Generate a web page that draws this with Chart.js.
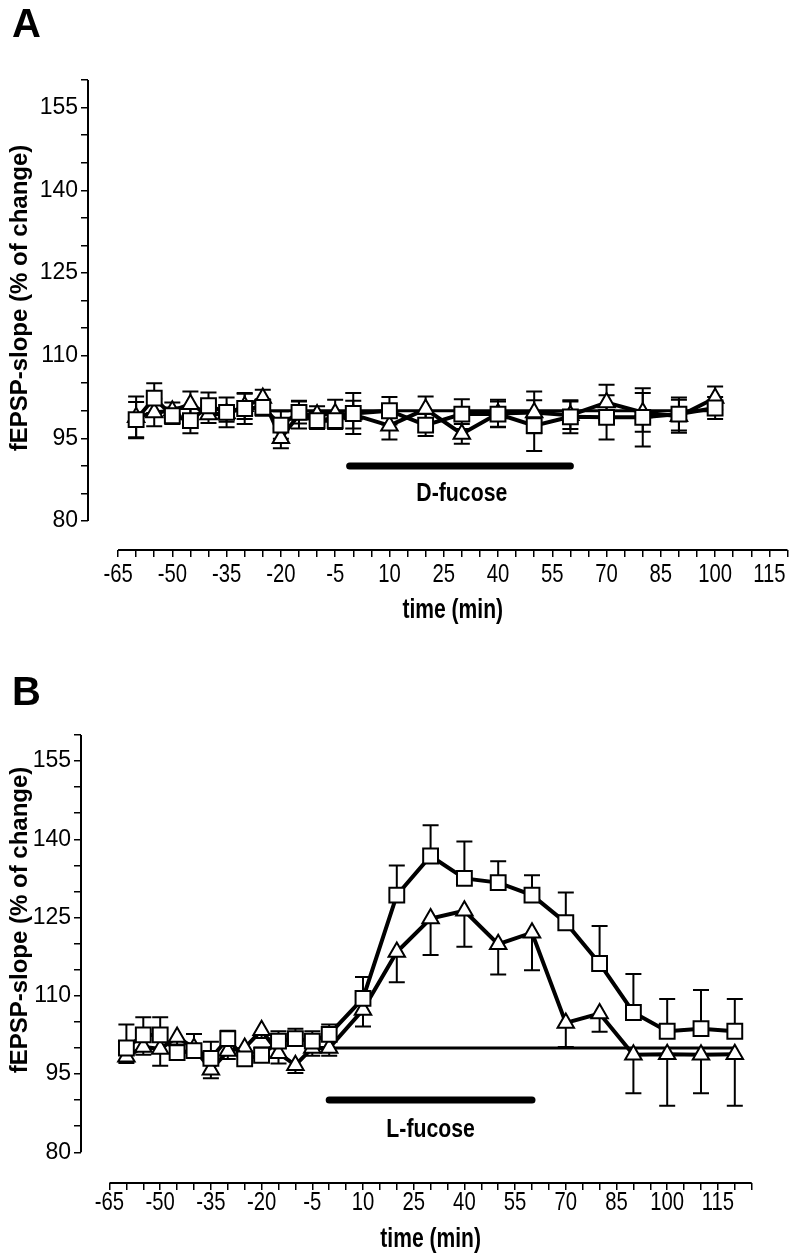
<!DOCTYPE html>
<html>
<head>
<meta charset="utf-8">
<script src="https://cdn.jsdelivr.net/npm/chart.js@4.4.1/dist/chart.umd.min.js"></script>
<style>
  html, body { margin: 0; padding: 0; background: #fff; }
  body { width: 800px; height: 1258px; position: relative; overflow: hidden; }
  .panel { position: absolute; left: 0; }
</style>
</head>
<body>
<div class="panel" style="top:0"><canvas id="chartA" width="800" height="650"></canvas></div>
<div class="panel" style="top:640px"><canvas id="chartB" width="800" height="618"></canvas></div>
<script>
// time points (min)
const timesA = [-60, -55, -50, -45, -40, -35, -30, -25, -20, -15, -10, -5, 0, 10, 20, 30, 40, 50, 60, 70, 80, 90, 100];
const timesB = [-60, -55, -50, -45, -40, -35, -30, -25, -20, -15, -10, -5, 0, 10, 20, 30, 40, 50, 60, 70, 80, 90, 100, 110, 120];

// panel A (D-fucose)
const squaresA    = [98.4, 102.3, 99.1, 98.2, 100.9, 99.7, 100.4, 100.6, 97.4, 99.7, 98.2, 98.2, 99.5, 100.0, 97.4, 99.4, 99.4, 97.3, 98.9, 98.8, 98.8, 99.4, 100.5];
const squaresAErr = [3.2, 2.7, 1.5, 2.3, 2.4, 2.7, 2.8, 1.5, 2.5, 2.0, 1.5, 1.5, 3.7, 2.5, 2.0, 2.7, 2.3, 4.6, 3.0, 4.0, 5.3, 3.0, 2.0];
const trianglesA    = [98.8, 99.7, 100.0, 101.2, 99.3, 99.5, 100.8, 102.3, 95.0, 99.3, 99.3, 99.5, 99.3, 97.3, 100.3, 95.8, 99.5, 99.7, 99.2, 101.5, 99.7, 99.0, 102.3];
const trianglesAErr = [3.8, 2.5, 1.5, 2.3, 1.5, 1.5, 2.3, 1.5, 1.8, 2.5, 1.5, 2.5, 2.5, 2.5, 2.3, 1.8, 2.5, 3.8, 2.5, 3.2, 3.5, 3.0, 2.1];

// panel B (L-fucose)
const squaresB    = [100.0, 102.5, 102.5, 99.1, 99.5, 98.0, 101.8, 97.9, 98.6, 101.3, 101.8, 101.3, 102.6, 109.5, 129.3, 136.8, 132.5, 131.7, 129.3, 124.0, 116.2, 106.8, 103.2, 103.7, 103.2];
const squaresBErr = [4.5, 3.4, 3.4, 1.5, 3.2, 3.2, 1.5, 1.0, 1.5, 1.9, 1.9, 1.9, 1.9, 4.1, 5.7, 5.9, 7.1, 4.1, 3.8, 5.8, 7.2, 7.4, 6.2, 7.4, 6.2];
const trianglesB    = [98.3, 100.2, 99.8, 102.1, 100.0, 95.8, 99.4, 100.0, 103.4, 99.0, 96.7, 100.0, 100.0, 107.3, 118.4, 124.8, 126.3, 119.9, 122.1, 104.8, 106.6, 98.7, 98.8, 98.7, 98.8];
const trianglesBErr = [1.2, 1.5, 3.2, 1.5, 1.5, 1.6, 1.5, 1.5, 1.5, 2.0, 1.5, 1.5, 1.5, 3.2, 5.8, 7.0, 6.9, 5.8, 7.2, 4.6, 3.5, 7.4, 9.9, 7.4, 9.9];

// 100% reference line and drug application bar
const baselineA = [[-25, 100], [100, 100]];
const baselineB = [[0, 100], [120, 100]];
const drugBarA = [[-1, 90], [60, 90]];
const drugBarB = [[0, 90], [60, 90]];

// labelled ticks
const xTickLabels = [-65, -50, -35, -20, -5, 10, 25, 40, 55, 70, 85, 100, 115];
const yTickLabels = [80, 95, 110, 125, 140, 155];
const yTop = 160;

const SANS = "'Liberation Sans', Arial, sans-serif";

function pts(xs, ys) {
    return xs.map((x, i) => ({ x: x, y: ys[i] }));
}

// condensed look: squeeze text horizontally
function narrowText(ctx, text, x, y, font, squeeze) {
    ctx.save();
    ctx.translate(x, y);
    ctx.scale(squeeze, 1);
    ctx.font = font;
    ctx.fillText(text, 0, 0);
    ctx.restore();
}

// error bars drawn under the markers
const errorBars = {
    id: 'errorBars',
    beforeDatasetsDraw(chart) {
        const ctx = chart.ctx;
        const xs = chart.scales.x, ys = chart.scales.y;
        chart.data.datasets.forEach(ds => {
            if (!ds.err) return;
            ctx.save();
            ctx.strokeStyle = '#000';
            ctx.lineWidth = 2;
            ds.data.forEach((p, i) => {
                const px = xs.getPixelForValue(p.x);
                const py = ys.getPixelForValue(p.y);
                const ends = [];
                if (ds.errDir !== 'down') ends.push(p.y + ds.err[i]);
                if (ds.errDir !== 'up') ends.push(p.y - ds.err[i]);
                ends.forEach(v => {
                    const ey = ys.getPixelForValue(v);
                    ctx.beginPath();
                    ctx.moveTo(px, py);
                    ctx.lineTo(px, ey);
                    ctx.moveTo(px - 8, ey);
                    ctx.lineTo(px + 8, ey);
                    ctx.stroke();
                });
            });
            ctx.restore();
        });
    }
};

// detached axis lines, x labels and texts
const decorations = {
    id: 'decorations',
    afterDraw(chart) {
        const o = chart.options.plugins.decorations;
        const ctx = chart.ctx;
        const xs = chart.scales.x, ys = chart.scales.y;
        const area = chart.chartArea;
        const xStart = xTickLabels[0];
        ctx.save();
        ctx.strokeStyle = '#000';
        ctx.lineWidth = 2;
        ctx.beginPath();
        ctx.moveTo(area.left, ys.getPixelForValue(yTickLabels[0]));
        ctx.lineTo(area.left, ys.getPixelForValue(yTop));
        ctx.moveTo(xs.getPixelForValue(xStart), area.bottom);
        ctx.lineTo(xs.getPixelForValue(xs.max), area.bottom);
        ctx.stroke();

        ctx.fillStyle = '#000';
        ctx.textAlign = 'center';
        ctx.textBaseline = 'middle';
        xTickLabels.forEach(v => {
            narrowText(ctx, String(v), xs.getPixelForValue(v), area.bottom + o.xLabelDy, '26px ' + SANS, 0.78);
        });

        const midX = (xs.getPixelForValue(xStart) + xs.getPixelForValue(xs.max)) / 2;
        narrowText(ctx, 'time (min)', midX, o.xTitleY, 'bold 27px ' + SANS, 0.78);
        narrowText(ctx, o.drug, xs.getPixelForValue(30), o.drugY, 'bold 25px ' + SANS, 0.85);

        ctx.textAlign = 'left';
        ctx.textBaseline = 'alphabetic';
        ctx.font = 'bold 40px ' + SANS;
        ctx.fillText(o.letter, 12, o.letterY);

        ctx.textAlign = 'center';
        ctx.textBaseline = 'middle';
        ctx.translate(20, o.yTitleY);
        ctx.rotate(-Math.PI / 2);
        ctx.font = 'bold 24px ' + SANS;
        ctx.fillText('fEPSP-slope (% of change)', 0, 0);
        ctx.restore();
    }
};

function makePanel(id, cfg) {
    const ctx = document.getElementById(id).getContext('2d');
    return new Chart(ctx, {
        type: 'line',
        data: {
            datasets: [
                {
                    data: pts(cfg.times, cfg.squares),
                    err: cfg.squaresErr,
                    errDir: cfg.squareDir,
                    borderColor: '#000',
                    borderWidth: 4,
                    pointStyle: 'rect',
                    pointRadius: 10.5,
                    pointBackgroundColor: '#fff',
                    pointBorderColor: '#000',
                    pointBorderWidth: 2,
                    tension: 0
                },
                {
                    data: pts(cfg.times, cfg.triangles),
                    err: cfg.trianglesErr,
                    errDir: cfg.triangleDir,
                    borderColor: '#000',
                    borderWidth: 4,
                    pointStyle: 'triangle',
                    pointRadius: 9.5,
                    pointBackgroundColor: '#fff',
                    pointBorderColor: '#000',
                    pointBorderWidth: 2,
                    tension: 0
                },
                {
                    data: cfg.baseline.map(p => ({ x: p[0], y: p[1] })),
                    borderColor: '#000',
                    borderWidth: 3,
                    pointRadius: 0
                },
                {
                    data: cfg.drugBar.map(p => ({ x: p[0], y: p[1] })),
                    borderColor: '#000',
                    borderWidth: 7,
                    borderCapStyle: 'round',
                    pointRadius: 0
                }
            ]
        },
        options: {
            responsive: false,
            animation: false,
            events: [],
            layout: { padding: { top: cfg.padTop, right: cfg.padRight, left: 0, bottom: 0 } },
            plugins: {
                legend: { display: false },
                tooltip: { enabled: false },
                decorations: cfg.deco
            },
            scales: {
                x: {
                    type: 'linear',
                    min: cfg.xMin,
                    max: cfg.xMax,
                    border: { display: false },
                    grid: { drawOnChartArea: false, drawTicks: true, tickLength: 7, lineWidth: 1.5, color: '#000' },
                    ticks: {
                        stepSize: 5,
                        autoSkip: false,
                        maxRotation: 0,
                        callback: () => ''
                    },
                    afterBuildTicks: s => { s.ticks = s.ticks.filter(t => t.value >= xTickLabels[0]); },
                    afterFit: s => { s.height = cfg.xHeight; }
                },
                y: {
                    type: 'linear',
                    min: cfg.yMin,
                    max: yTop,
                    border: { display: false },
                    grid: { drawOnChartArea: false, drawTicks: true, tickLength: 7, lineWidth: 1.5, color: '#000' },
                    ticks: {
                        stepSize: 5,
                        autoSkip: false,
                        padding: 3,
                        color: '#000',
                        font: { family: SANS, size: 23 },
                        callback: v => yTickLabels.includes(v) ? String(v) : ''
                    },
                    afterBuildTicks: s => { s.ticks = s.ticks.filter(t => t.value >= yTickLabels[0]); },
                    afterFit: s => { s.width = cfg.yWidth; }
                }
            }
        },
        plugins: [errorBars, decorations]
    });
}

makePanel('chartA', {
    times: timesA,
    squares: squaresA, squaresErr: squaresAErr, squareDir: 'both',
    triangles: trianglesA, trianglesErr: trianglesAErr, triangleDir: 'both',
    baseline: baselineA, drugBar: drugBarA,
    xMin: -73.3, xMax: 120, yMin: 74.74,
    padTop: 80, padRight: 3.7, xHeight: 100, yWidth: 88,
    deco: { letter: 'A', letterY: 37, drug: 'D-fucose', drugY: 494, xTitleY: 611, yTitleY: 298, xLabelDy: 25 }
});

makePanel('chartB', {
    times: timesB,
    squares: squaresB, squaresErr: squaresBErr, squareDir: 'up',
    triangles: trianglesB, trianglesErr: trianglesBErr, triangleDir: 'down',
    baseline: baselineB, drugBar: drugBarB,
    xMin: -73.43, xMax: 125, yMin: 74.11,
    padTop: 95, padRight: 48.3, xHeight: 75, yWidth: 81,
    deco: { letter: 'B', letterY: 65, drug: 'L-fucose', drugY: 490, xTitleY: 600, yTitleY: 280, xLabelDy: 20 }
});
</script>
</body>
</html>
